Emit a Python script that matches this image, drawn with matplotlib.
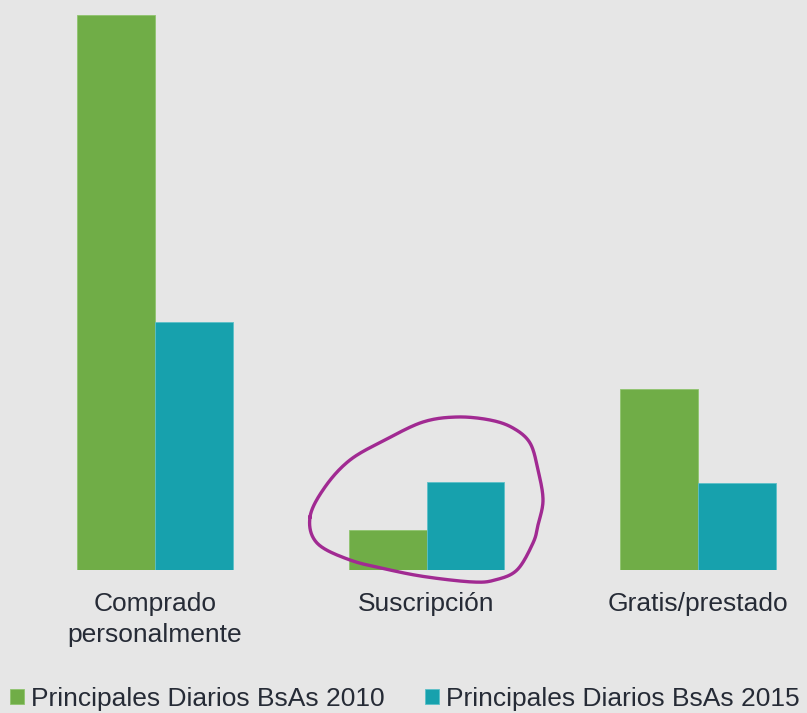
import matplotlib.pyplot as plt
import numpy as np

plt.rcParams['font.family'] = ['Liberation Sans', 'DejaVu Sans']

# Data (arbitrary units)
categories = ["Comprado\npersonalmente", "Suscripción", "Gratis/prestado"]
series_names = ["Principales Diarios BsAs 2010", "Principales Diarios BsAs 2015"]
values_2010 = [55.5, 4.0, 18.1]
values_2015 = [24.8, 8.8, 8.7]

colors = ["#70ad47", "#17a1ad"]
bg = "#e6e6e6"

W, H = 807, 713
fig = plt.figure(figsize=(W / 100, H / 100), dpi=100, facecolor=bg)

# axes: baseline at y=570 px, tallest bar top at y=15 px
ax = fig.add_axes([0, 1 - 570 / H, 1, (570 - 15) / H])
ax.set_facecolor(bg)

x = np.arange(len(categories))
w = 0.2855
ax.bar(x - w / 2, values_2010, w, color=colors[0], label=series_names[0],
       edgecolor="#8fc46e", linewidth=0.6)
ax.bar(x + w / 2, values_2015, w, color=colors[1], label=series_names[1],
       edgecolor="#5cc0c8", linewidth=0.6)

# centers at px 155 and 698
px_per_unit = (698 - 155) / 2
ax.set_xlim(-155 / px_per_unit, (W - 155) / px_per_unit)
ax.set_ylim(0, max(values_2010))

ax.set_xticks(x)
ax.set_xticklabels(categories, fontsize=19, color="#262b36", linespacing=1.35)
ax.tick_params(axis="x", length=0, pad=16)
ax.set_yticks([])
for s in ax.spines.values():
    s.set_visible(False)

# hand-drawn circle around Suscripción (figure pixel coords)
pts = np.array([
    (310, 517), (325, 487), (350, 460), (385, 440), (423, 422), (457, 417),
    (490, 420), (513, 428), (530, 443), (538, 470), (543, 500), (538, 525),
    (533, 543), (517, 570), (495, 580), (473, 582), (427, 577), (390, 570),
    (350, 560), (317, 543),
], dtype=float)


def catmull_rom_closed(p, n=20):
    out = []
    m = len(p)
    for i in range(m):
        p0, p1, p2, p3 = p[i - 1], p[i], p[(i + 1) % m], p[(i + 2) % m]
        t = np.linspace(0, 1, n, endpoint=False)[:, None]
        seg = 0.5 * ((2 * p1) + (-p0 + p2) * t + (2 * p0 - 5 * p1 + 4 * p2 - p3) * t ** 2
                     + (-p0 + 3 * p1 - 3 * p2 + p3) * t ** 3)
        out.append(seg)
    out = np.vstack(out)
    return np.vstack([out, out[:1]])


curve = catmull_rom_closed(pts)
fig.add_artist(plt.Line2D(curve[:, 0] / W, 1 - curve[:, 1] / H, color="#a12a92",
                          linewidth=2.4, transform=fig.transFigure))

leg = fig.legend(loc="center left", bbox_to_anchor=(10 / W, 1 - 699 / H), ncol=2,
                 frameon=False, fontsize=19, handlelength=0.53, handleheight=0.53,
                 handletextpad=0.25, columnspacing=1.55, borderaxespad=0, borderpad=0)
for t in leg.get_texts():
    t.set_color("#262b36")

fig.savefig("out.png", dpi=100, facecolor=bg)
